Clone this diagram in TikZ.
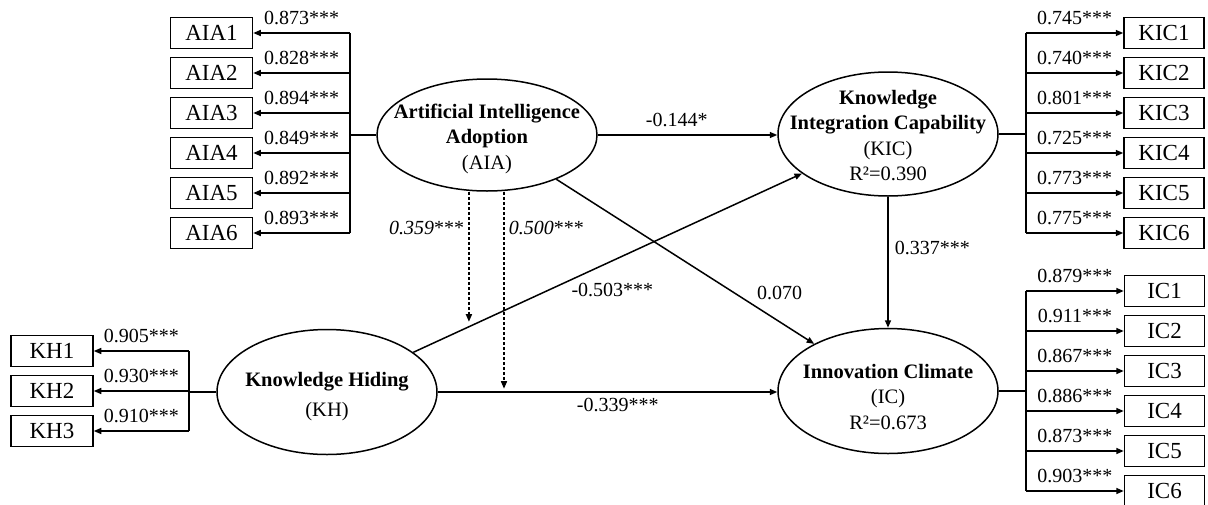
\documentclass[tikz,border=0pt]{standalone}
\usepackage{fontspec}
\setmainfont{Liberation Serif}
\usetikzlibrary{shapes.geometric,arrows.meta}
\newcommand\lvtext[2]{\smash{\makebox[0pt]{\raisebox{#1}{\begin{tabular}{@{}c@{}}#2\end{tabular}}}}}
\begin{document}
\begin{tikzpicture}[x=1pt,y=-1pt,
  lw/.style={line width=1.5pt},
  ind/.style={draw,lw,minimum width=82pt,minimum height=31pt,inner sep=0pt,font=\fontsize{23}{26}\selectfont},
  lat/.style={draw,lw,ellipse,minimum width=220pt,inner sep=0pt,font=\fontsize{20.5}{25.5}\selectfont},
  arr/.style={lw,-{Triangle[length=7.5pt,width=6pt]}},
  dasharr/.style={lw,dash pattern=on 3pt off 2pt,-{Triangle[length=7.5pt,width=6pt]}},
  lab/.style={font=\fontsize{20}{23}\selectfont,inner sep=1pt},
]
\useasboundingbox (0,0) rectangle (1208,504);

% latent variables
\node[lat,minimum height=112pt] (aia) at (487,135) {\lvtext{-8.7pt}{\bfseries Artificial Intelligence\\\bfseries Adoption\\(AIA)}};
\node[lat,minimum height=124pt] (kic) at (888,134) {\lvtext{-8.7pt}{\bfseries Knowledge\\\bfseries Integration Capability\\(KIC)\\R²=0.390}};
\node[lat,minimum height=125pt] (kh) at (327,392) {\lvtext{-9.7pt}{\bfseries Knowledge Hiding\\[4.5pt](KH)}};
\node[lat,minimum height=125pt] (ic) at (888,391) {\lvtext{-13pt}{\bfseries Innovation Climate\\(IC)\\R²=0.673}};

% bus coordinates
\coordinate (aiabus) at (350,135);
\coordinate (kicbus) at (1026,134);
\coordinate (khbus) at (189,392);
\coordinate (icbus) at (1026,391);

% AIA indicators
\foreach \i/\v in {1/0.873,2/0.828,3/0.894,4/0.849,5/0.892,6/0.893} {
  \node[ind] (aia\i) at (211.5,{33+40*(\i-1)}) {AIA\i};
  \draw[arr] (aiabus |- aia\i) -- (aia\i.east) node[lab,midway,above=6pt] {\v***};
}
\draw[lw] (aiabus |- aia1) -- (aiabus |- aia6);
\draw[lw] (aia.west) -- (aiabus);

% KIC indicators
\foreach \i/\v in {1/0.745,2/0.740,3/0.801,4/0.725,5/0.773,6/0.775} {
  \node[ind,minimum width=80pt] (kic\i) at (1164,{33+40*(\i-1)}) {KIC\i};
  \draw[arr] (kicbus |- kic\i) -- (kic\i.west) node[lab,midway,above=6pt] {\v***};
}
\draw[lw] (kicbus |- kic1) -- (kicbus |- kic6);
\draw[lw] (kic.east) -- (kicbus);

% KH indicators
\foreach \i/\v in {1/0.905,2/0.930,3/0.910} {
  \node[ind] (kh\i) at (52,{351+40*(\i-1)}) {KH\i};
  \draw[arr] (khbus |- kh\i) -- (kh\i.east) node[lab,midway,above=6pt] {\v***};
}
\draw[lw] (khbus |- kh1) -- (khbus |- kh3);
\draw[lw] (kh.west) -- (khbus);

% IC indicators
\foreach \i/\v in {1/0.879,2/0.911,3/0.867,4/0.886,5/0.873,6/0.903} {
  \node[ind,minimum width=80pt] (ic\i) at (1164.5,{291+40*(\i-1)}) {IC\i};
  \draw[arr] (icbus |- ic\i) -- (ic\i.west) node[lab,midway,above=6pt] {\v***};
}
\draw[lw] (icbus |- ic1) -- (icbus |- ic6);
\draw[lw] (ic.east) -- (icbus);

% structural paths
\draw[arr] (aia.east) -- (aia.east -| kic.west) node[lab,pos=0.44,above=6pt] {-0.144*};
\draw[arr] (kic) -- (ic) node[lab,pos=0.39,right=5pt] {0.337***};
\draw[arr] (aia) -- (ic) node[lab,pos=0.76,anchor=south west,inner sep=4pt] {0.070};
\draw[arr] (kh) -- (kic) node[lab,pos=0.40,anchor=north west,inner sep=2pt] {-0.503***};
\draw[arr] (kh.east) -- (kh.east -| ic.west) node[lab,pos=0.53,below=4pt] {-0.339***};

% moderation
\path (kh.center) -- (kic.center) coordinate[pos=0.253] (m1);
\path (kh.center) -- (ic.center) coordinate[pos=0.3155] (m2);
\draw[dasharr,shorten >=5pt] (aia.south -| m1) -- (m1) node[lab,pos=0.27,left=3pt] {\textit{0.359}***};
\draw[dasharr,shorten >=3pt] (aia.south -| m2) -- (m2) node[lab,pos=0.18,right=3pt] {\textit{0.500}***};
\end{tikzpicture}
\end{document}
